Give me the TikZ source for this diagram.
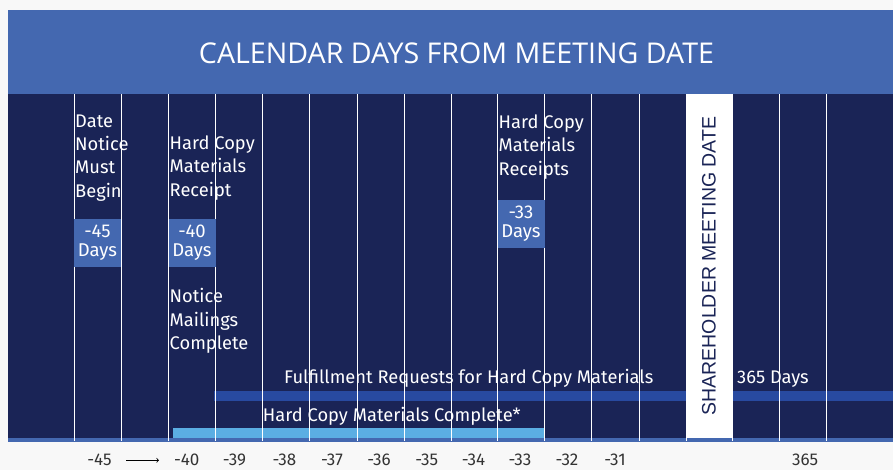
\documentclass[tikz,border=0pt]{standalone}
\usepackage{fontspec}
\setmainfont{Fira Sans}
\newfontfamily\titlefont{Open Sans}
\newfontfamily\meetfont{Liberation Sans}
\definecolor{pagegray}{HTML}{F8F8F8}
\definecolor{headblue}{HTML}{4468B0}
\definecolor{navy}{HTML}{1A2456}
\definecolor{barblue}{HTML}{284AA0}
\definecolor{skyblue}{HTML}{5BAEE3}
\definecolor{ticktext}{HTML}{333333}
\tikzset{%
    daybox/.style={fill=headblue,text=white,inner sep=0pt,minimum width=47pt,minimum height=48pt,align=center,font=\fontsize{18.5}{19}\selectfont}
}

\begin{document}
\begin{tikzpicture}[
        x=1pt,y=-1pt,
        vline/.style={white,line width=0.9pt},
        note/.style={anchor=base west,inner sep=0pt,text=white,align=left,font=\fontsize{18.3}{23.3}\selectfont},
        tick/.style={anchor=base,inner sep=0pt,text=ticktext,font=\fontsize{17}{17}\selectfont}
        ]
        \useasboundingbox (0,0) rectangle (893,470);
        \fill[pagegray] (0,0) rectangle (893,470);
        \fill[headblue] (8,10) rectangle (893,94);
        \fill[navy] (8,94) rectangle (893,438);
        \fill[headblue] (8,438) rectangle (893,442);

        \node[anchor=base,inner sep=0pt,text=white,font=\titlefont\fontsize{28.6}{30}\selectfont] (title) at (456.5,64) {CALENDAR DAYS FROM MEETING DATE};

        \fill[barblue] (214,391) rectangle (893,401);
        \fill[skyblue] (173,428) rectangle (544,438);
        \fill[white] (686,94) rectangle (732.5,438);

        \draw[vline] (74.6,94) -- (74.6,441);
        \draw[vline] (121.3,94) -- (121.3,441);
        \draw[vline] (168.6,94) -- (168.6,441);
        \draw[vline] (215.8,94) -- (215.8,441);
        \draw[vline] (262.5,94) -- (262.5,441);
        \draw[vline] (309.8,94) -- (309.8,441);
        \draw[vline] (357.6,94) -- (357.6,441);
        \draw[vline] (404.3,94) -- (404.3,441);
        \draw[vline] (451.6,94) -- (451.6,441);
        \draw[vline] (497.7,94) -- (497.7,441);
        \draw[vline] (544.4,94) -- (544.4,441);
        \draw[vline] (591.7,94) -- (591.7,441);
        \draw[vline] (639.5,94) -- (639.5,441);
        \draw[vline] (686.2,438) -- (686.2,441);
        \draw[vline] (732.3,438) -- (732.3,441);
        \draw[vline] (779.6,94) -- (779.6,441);
        \draw[vline] (826.9,94) -- (826.9,441);

        \node[rotate=90,inner sep=0pt,text=navy,font=\meetfont\fontsize{19.5}{20}\selectfont] (meeting) at (709,266) {SHAREHOLDER MEETING DATE};

        \node[daybox] (d45) at (97.5,243) {-45\\Days};
        \node[daybox] (d40) at (192,243) {-40\\Days};
        \node[daybox] (d33) at (521,224) {-33\\Days};

        \node[note] (begin) at (75,197.2) {Date\\Notice\\Must\\Begin};
        \node[note] (receipt) at (169.5,196.1) {Hard Copy\\Materials\\Receipt};
        \node[note] (mailings) at (169.5,349.3) {Notice\\Mailings\\Complete};
        \node[note] (receipts) at (498.5,175.1) {Hard Copy\\Materials\\Receipts};
        \node[note] (fulfil) at (284,383.3) {Fulfillment Requests for Hard Copy Materials};
        \node[note] (yeardays) at (737,383.3) {365 Days};
        \node[note] (complete) at (262.7,421.7) {Hard Copy Materials Complete*};

        \node[tick] (t45) at (99.5,465) {-45};
        \node[tick] (t40) at (186.7,465) {-40};
        \node[tick] (t39) at (234.5,465) {-39};
        \node[tick] (t38) at (284.5,465) {-38};
        \node[tick] (t37) at (332,465) {-37};
        \node[tick] (t36) at (379,465) {-36};
        \node[tick] (t35) at (426.7,465) {-35};
        \node[tick] (t34) at (473.5,465) {-34};
        \node[tick] (t33) at (520,465) {-33};
        \node[tick] (t32) at (567,465) {-32};
        \node[tick] (t31) at (615,465) {-31};
        \node[tick] (t365) at (805,465) {365};

        \coordinate (arrowS) at (126,460.3);
        \coordinate (arrowE) at (159,460.3);
        \draw[->,line width=0.8pt] (arrowS) -- (arrowE);
    \end{tikzpicture}
\end{document}
